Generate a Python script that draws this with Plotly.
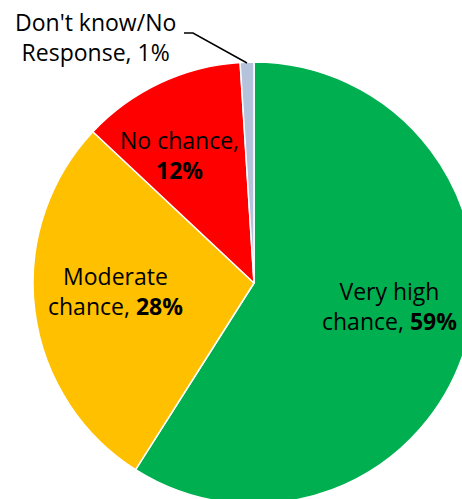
import plotly.graph_objects as go

# ---- data ----
categories = ["Very high chance", "Moderate chance", "No chance", "Don't know/No Response"]
values = [59, 28, 12, 1]
colors = ["#00B050", "#FFC000", "#FF0000", "#B4C2DC"]

# ---- geometry (pixels) ----
W, H = 508, 566
cx, cy, R = 254, 283, 221

def px(x):
    return x / W

def py(y):
    return 1 - y / H

fig = go.Figure(go.Pie(
    labels=categories,
    values=values,
    sort=False,
    direction="clockwise",
    rotation=0,
    marker=dict(colors=colors, line=dict(color="white", width=1.5)),
    textinfo="none",
    hoverinfo="label+percent",
    showlegend=False,
    domain=dict(x=[px(cx - R), px(cx + R)], y=[py(cy + R), py(cy - R)]),
))

font = dict(family="Open Sans", size=23, color="black")
label_pos = {
    "Very high chance": (389, 306, "Very high<br>chance, <b>{}%</b>"),
    "Moderate chance": (115, 291, "Moderate<br>chance, <b>{}%</b>"),
    "No chance": (179, 155, "No chance,<br><b>{}%</b>"),
    "Don't know/No Response": (95, 37, "Don't know/No<br>Response, {}%"),
}
annotations = []
for cat, val in zip(categories, values):
    x, y, tmpl = label_pos[cat]
    annotations.append(dict(
        x=px(x), y=py(y), xref="paper", yref="paper",
        text=tmpl.format(val), showarrow=False, font=font,
        xanchor="center", yanchor="middle", align="center",
    ))

fig.add_shape(
    type="path",
    xref="paper", yref="paper",
    path=f"M {px(184)} {py(33)} L {px(193)} {py(33)} L {px(247)} {py(63)}",
    line=dict(color="black", width=1.5),
)

fig.update_layout(
    width=W, height=H,
    margin=dict(l=0, r=0, t=0, b=0),
    paper_bgcolor="white",
    plot_bgcolor="white",
    annotations=annotations,
)

fig.write_html(
    "out.html",
    config={"displayModeBar": False},
    post_script="document.body.style.margin='0';document.body.style.overflow='hidden';document.documentElement.style.overflow='hidden';",
)
